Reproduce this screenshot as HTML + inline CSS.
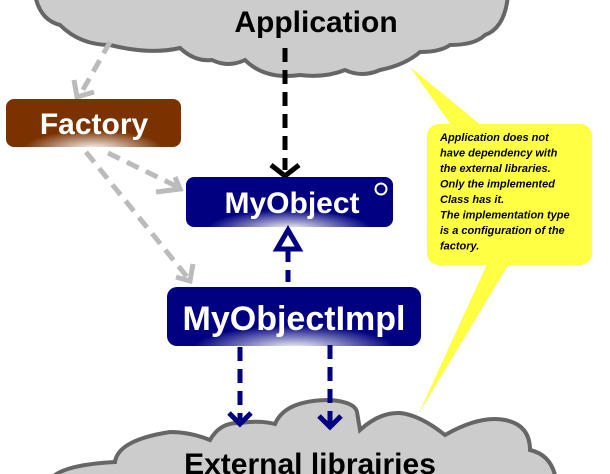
<!DOCTYPE html>
<html><head><meta charset="utf-8"><style>
html,body{margin:0;padding:0;background:#fff;width:610px;height:474px;overflow:hidden}
svg{display:block}
text{font-family:"Liberation Sans","DejaVu Sans",sans-serif;font-weight:bold}
</style></head><body>
<svg width="610" height="474" viewBox="0 0 610 474" xmlns="http://www.w3.org/2000/svg">
<defs>
<radialGradient id="gb" cx="0.5" cy="1.05" r="0.4">
<stop offset="0" stop-color="#fff"/><stop offset="1" stop-color="#7a3200"/></radialGradient>
<radialGradient id="gn" cx="0.5" cy="1.05" r="0.4">
<stop offset="0" stop-color="#fff"/><stop offset="1" stop-color="#000080"/></radialGradient>
</defs>
<!-- callout pointers -->
<polygon points="410,67 452,126 482,126" fill="#ffff44"/>
<polygon points="419,413 488,262 510,262" fill="#ffff44"/>
<!-- top cloud -->
<path d="M35,-5 Q40,20 60,25 Q80,45 110,45 Q150,55 180,48 Q195,62 212,60 Q228,68 245,60 Q265,80 300,75 Q325,78 345,70 Q362,78 380,70 Q405,65 420,52 Q440,52 450,45 Q475,45 485,35 Q505,28 508,-5 Z" fill="#cccccc" stroke="#666" stroke-width="4"/>
<text x="316" y="32" font-size="30" text-anchor="middle" fill="#000">Application</text>
<!-- bottom cloud -->
<path d="M50,480 Q60,465 115,462 Q118,440 170,432 Q190,432 210,440 Q220,422 240,423 Q260,420 275,424 Q285,400 330,400 Q355,402 357,412 L360,430 Q380,412 400,413 Q420,415 445,435 Q480,415 505,420 Q530,425 530,450 Q552,455 556,480 Z" fill="#cccccc" stroke="#666" stroke-width="4"/>
<text x="310" y="474" font-size="30" text-anchor="middle" fill="#000">External librairies</text>
<!-- callout box -->
<rect x="427" y="124" width="165" height="141" rx="12" fill="#ffff44"/>
<g font-size="11" font-style="italic" fill="#000">
<text x="440" y="141">Application does not</text>
<text x="440" y="156.5">have dependency with</text>
<text x="440" y="172">the external libraries.</text>
<text x="440" y="187.5">Only the implemented</text>
<text x="440" y="203">Class has it.</text>
<text x="440" y="218.5">The implementation type</text>
<text x="440" y="234">is a configuration of the</text>
<text x="440" y="249.5">factory.</text>
</g>
<!-- gray arrows -->
<g stroke="#bbb" stroke-width="5" fill="none">
<line x1="110" y1="42" x2="80" y2="95" stroke-dasharray="13,8"/>
<polyline points="74,80 77,97 94,92"/>
<line x1="108" y1="153" x2="180" y2="188" stroke-dasharray="13,8"/>
<polyline points="156,192 180,189 175,177" />
<line x1="86" y1="152" x2="188" y2="278" stroke-dasharray="13,8"/>
<polyline points="176,277 190,281 193,264"/>
</g>
<!-- black arrow -->
<g stroke="#000" stroke-width="5" fill="none">
<line x1="285" y1="48" x2="285" y2="170" stroke-dasharray="14,8"/>
<polyline points="271,165 285,176 299,165"/>
</g>
<!-- boxes -->
<rect x="6" y="99" width="175" height="48" rx="8" fill="url(#gb)"/>
<text x="94" y="134" font-size="30" text-anchor="middle" fill="#fff">Factory</text>
<rect x="186" y="177" width="207" height="50" rx="8" fill="url(#gn)"/>
<text x="292" y="213" font-size="30" text-anchor="middle" fill="#fff">MyObject</text>
<circle cx="381" cy="189" r="5.5" fill="none" stroke="#fff" stroke-width="2"/>
<!-- realization -->
<g stroke="#000080" stroke-width="5" fill="none">
<line x1="288" y1="250" x2="288" y2="288" stroke-dasharray="12,8"/>
<polygon points="288,230 277,249 299,249" fill="#fff"/>
</g>
<rect x="167" y="287" width="254" height="59" rx="10" fill="url(#gn)"/>
<text x="294" y="330" font-size="34" text-anchor="middle" fill="#fff">MyObjectImpl</text>
<!-- blue arrows -->
<g stroke="#000080" stroke-width="5" fill="none">
<line x1="240" y1="347" x2="240" y2="420" stroke-dasharray="14,8"/>
<polyline points="229,413 240,424 251,413"/>
<line x1="330" y1="345" x2="330" y2="424" stroke-dasharray="14,8"/>
<polyline points="319,416 330,427 341,416"/>
</g>
</svg>
</body></html>
